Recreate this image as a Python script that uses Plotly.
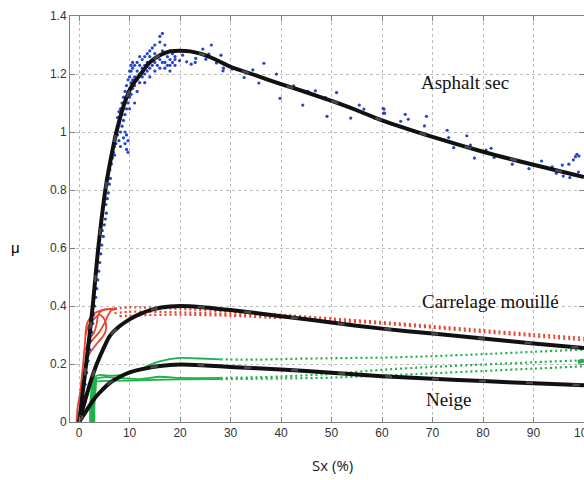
import plotly.graph_objects as go

# ---------------- data ----------------
# Model curves (black)
asph_x = [0, 0.7, 1.4, 2.0, 2.7, 3.8, 5.2, 6.2, 7.4, 9.0, 10.5, 12.2, 14, 16, 18, 20, 22, 24, 27, 30, 35, 40, 45, 50, 55, 60, 70, 80, 90, 100]
asph_y = [0, 0.1, 0.2, 0.29, 0.4, 0.6, 0.8, 0.9, 1.0, 1.1, 1.16, 1.2, 1.24, 1.265, 1.278, 1.28, 1.278, 1.27, 1.25, 1.225, 1.195, 1.165, 1.137, 1.107, 1.075, 1.04, 0.983, 0.932, 0.887, 0.845]

carr_x = [0, 1.2, 2.3, 3.5, 5, 6.1, 8, 10, 12, 15, 18, 20, 25, 30, 40, 50, 60, 70, 80, 90, 100]
carr_y = [0, 0.075, 0.14, 0.2, 0.26, 0.297, 0.33, 0.354, 0.372, 0.39, 0.398, 0.4, 0.395, 0.386, 0.365, 0.343, 0.322, 0.305, 0.288, 0.271, 0.255]

neige_x = [0, 1, 2.8, 4, 6.1, 8, 10, 13, 16, 20, 25, 30, 40, 50, 60, 70, 80, 90, 100]
neige_y = [0, 0.027, 0.075, 0.1, 0.135, 0.155, 0.171, 0.184, 0.193, 0.198, 0.195, 0.19, 0.181, 0.17, 0.158, 0.149, 0.141, 0.134, 0.127]

# Measured points, dry asphalt (blue)
blue_x = [0.3, 0.6, 0.9, 1.2, 1.5, 1.8, 2.1, 2.3, 2.5, 2.7, 2.9, 3.1, 3.3, 3.5, 3.7, 3.9, 4.1, 4.3, 4.5, 4.8, 4.6, 5.0, 5.2, 5.4, 5.3, 5.6, 5.8, 6.0, 6.2, 6.1, 6.4, 6.6, 6.8,
          7.0, 7.0, 7.0, 7.3, 7.3, 7.6, 7.6, 7.6, 7.9, 7.9, 7.9, 8.2, 8.2, 8.2, 8.2, 8.5, 8.5, 8.5, 8.8, 8.8, 8.8, 8.8,
          9.1, 9.1, 9.1, 9.1, 9.1, 9.4, 9.4, 9.4, 9.4, 9.4, 9.7, 9.7, 9.7, 9.7, 9.7, 10.0, 10.0, 10.0, 10.0, 10.0,
          10.3, 10.3, 10.3, 10.3, 10.6, 10.6, 10.6, 10.6, 11.0, 11.0, 11.0, 11.0, 11.5, 11.5, 11.5, 11.5,
          12.0, 12.0, 12.0, 12.0, 12.5, 12.5, 12.5, 13.0, 13.0, 13.0, 13.0, 13.5, 13.5, 13.5, 14.0, 14.0, 14.0, 14.0,
          14.5, 14.5, 14.5, 15.0, 15.0, 15.0, 15.0, 15.5, 15.5, 16.0, 16.0, 16.0, 16.0, 16.5, 16.5, 16.5,
          17.0, 17.0, 17.0, 17.0, 17.5, 17.5, 18.0, 18.0, 18.0, 18.0, 18.5, 18.5, 19.0, 19.0, 19.0,
          19.9, 20.5, 21.3, 22.2, 23.0, 23.1, 24.5, 25.1, 25.7, 26.2, 27.2, 28.1, 28.5, 28.6, 30.3, 32.7, 34.4, 35.6, 36.6,
          39.1, 39.8, 42.5, 44.3, 45.3, 46.8, 48.8, 49.1, 51.0, 53.8, 55.5, 56.4, 58.6, 60.4, 60.5,
          60.2, 60.3, 63.7, 64.6, 65.2, 68.4, 68.8, 72.9, 73.2, 74.2, 76.8, 77.5, 78.3, 80.6, 81.6, 82.2, 85.8, 89.1,
          91.6, 93.7, 94.5, 95.7, 95.9, 97.0, 97.2, 97.9, 98.3, 98.6, 99.0, 98.9]
blue_y = [0.02, 0.05, 0.09, 0.13, 0.17, 0.21, 0.25, 0.28, 0.31, 0.34, 0.37, 0.40, 0.43, 0.46, 0.49, 0.52, 0.55, 0.58, 0.61, 0.64, 0.66, 0.68, 0.70, 0.72, 0.75, 0.77, 0.79, 0.82, 0.84, 0.87, 0.89, 0.91, 0.93,
          0.95, 0.98, 0.92, 1.0, 0.96, 1.02, 0.99, 1.05, 1.03, 0.97, 1.07, 1.05, 1.08, 1.00, 0.95, 1.06, 1.10, 1.02, 1.08, 1.12, 1.04, 0.98,
          1.10, 1.14, 1.06, 1.00, 0.96, 1.12, 1.16, 1.08, 0.99, 0.94, 1.14, 1.18, 1.10, 0.93, 0.97, 1.15, 1.19, 1.12, 1.21, 1.08,
          1.17, 1.21, 1.13, 1.23, 1.18, 1.22, 1.15, 1.24, 1.19, 1.23, 1.16, 1.10, 1.21, 1.18, 1.24, 1.14,
          1.20, 1.23, 1.17, 1.26, 1.22, 1.25, 1.19, 1.23, 1.26, 1.20, 1.17, 1.24, 1.27, 1.21, 1.22, 1.26, 1.19, 1.28,
          1.25, 1.23, 1.29, 1.24, 1.27, 1.30, 1.21, 1.26, 1.23, 1.33, 1.31, 1.25, 1.22, 1.34, 1.28, 1.24,
          1.27, 1.24, 1.30, 1.22, 1.26, 1.23, 1.25, 1.28, 1.23, 1.21, 1.24, 1.27, 1.26, 1.23, 1.25,
          1.246, 1.265, 1.242, 1.234, 1.24, 1.254, 1.286, 1.251, 1.269, 1.30, 1.238, 1.265, 1.211, 1.22, 1.217, 1.188, 1.214, 1.169, 1.237,
          1.20, 1.116, 1.159, 1.093, 1.14, 1.142, 1.119, 1.054, 1.136, 1.048, 1.093, 1.079, 1.047, 1.079, 1.065,
          1.081, 1.065, 1.037, 1.061, 1.044, 1.021, 1.054, 1.006, 0.981, 0.946, 0.987, 0.955, 0.91, 0.938, 0.944, 0.912, 0.889, 0.874,
          0.90, 0.88, 0.858, 0.886, 0.848, 0.889, 0.843, 0.904, 0.915, 0.923, 0.917, 0.862]

# Measured traces, wet tile (red)
red_a_x = [-0.5, -0.3, 0.2, 0.5, 0.8, 1.0, 1.2, 1.3, 1.6, 2.2, 3.0, 4.5, 6.0, 7.5]
red_a_y = [0.0, 0.05, 0.1, 0.15, 0.2, 0.24, 0.28, 0.31, 0.34, 0.36, 0.375, 0.385, 0.39, 0.392]
red_b_x = [1.2, 2.0, 3.0, 4.0, 5.0, 5.8, 6.4, 7.5]
red_b_y = [0.25, 0.27, 0.29, 0.31, 0.34, 0.37, 0.385, 0.39]
red_c_x = [1.3, 1.8, 2.5, 3.2, 4.0, 4.8, 5.3, 5.2, 4.5, 3.5, 2.6, 2.0, 1.6, 1.5, 1.7, 2.2, 3.0, 3.5, 3.8, 4.5, 6.5]
red_c_y = [0.30, 0.33, 0.345, 0.36, 0.37, 0.36, 0.34, 0.31, 0.29, 0.27, 0.25, 0.235, 0.22, 0.24, 0.27, 0.29, 0.31, 0.34, 0.37, 0.385, 0.39]
red_d1_x = [7, 10, 20, 30, 40, 50, 60, 70, 80, 90, 100]
red_d1_y = [0.39, 0.395, 0.39, 0.38, 0.37, 0.357, 0.345, 0.331, 0.317, 0.303, 0.29]
red_d2_x = [7, 10, 20, 30, 40, 50, 60, 70, 80, 90, 100]
red_d2_y = [0.375, 0.38, 0.378, 0.372, 0.362, 0.35, 0.339, 0.325, 0.31, 0.296, 0.282]
red_d3_x = [8, 12, 20, 30, 40]
red_d3_y = [0.365, 0.368, 0.37, 0.366, 0.358]

# Measured traces, snow (green)
grn_v_x = [2.6, 2.6, 2.7, 2.9, 3.0]
grn_v_y = [0.0, 0.04, 0.08, 0.12, 0.155]
grn_1_x = [2.8, 4, 6, 8, 10, 12, 14, 16, 18, 20, 24, 28]
grn_1_y = [0.155, 0.162, 0.16, 0.162, 0.168, 0.181, 0.197, 0.209, 0.217, 0.221, 0.219, 0.216]
grn_2_x = [3, 5, 8, 12, 16, 20, 28]
grn_2_y = [0.148, 0.155, 0.152, 0.148, 0.156, 0.152, 0.152]
grn_3_x = [3, 6, 10, 15, 20, 28]
grn_3_y = [0.14, 0.142, 0.143, 0.145, 0.147, 0.148]
grn_d1_x = [28, 35, 40, 50, 60, 70, 80, 90, 100]
grn_d1_y = [0.216, 0.215, 0.217, 0.22, 0.222, 0.227, 0.234, 0.242, 0.25]
grn_d2_x = [28, 35, 40, 50, 60, 70, 80, 90, 100]
grn_d2_y = [0.152, 0.154, 0.157, 0.166, 0.18, 0.19, 0.198, 0.206, 0.213]
grn_d3_x = [28, 40, 50, 60, 70, 80, 90, 100]
grn_d3_y = [0.148, 0.15, 0.153, 0.16, 0.168, 0.176, 0.184, 0.192]
grn_end_x = [98.8, 100]
grn_end_y = [0.207, 0.212]

x_ticks = [0, 10, 20, 30, 40, 50, 60, 70, 80, 90, 100]
y_ticks = [0, 0.2, 0.4, 0.6, 0.8, 1.0, 1.2, 1.4]

labels = ["Asphalt sec", "Carrelage mouillé", "Neige"]
label_x = [76.4, 81.4, 73.1]
label_y = [1.172, 0.414, 0.076]

# ---------------- figure ----------------
RED = "#e8432e"
GREEN = "#1fb24a"
BLUE = "#2446c8"

fig = go.Figure()

def line(x, y, color, width, dash=None, shape="spline"):
    fig.add_trace(go.Scatter(x=x, y=y, mode="lines", line=dict(color=color, width=width, dash=dash, shape=shape,
                                                                  smoothing=0.8 if shape == "spline" else None),
                             hoverinfo="skip", showlegend=False))

# red measured
for xs, ys in [(red_a_x, red_a_y), (red_b_x, red_b_y), (red_c_x, red_c_y)]:
    line(xs, ys, RED, 1.8)
for xs, ys in [(red_d1_x, red_d1_y), (red_d2_x, red_d2_y), (red_d3_x, red_d3_y)]:
    line(xs, ys, RED, 2.2, dash="2px,3px")

# green measured
line(grn_v_x, grn_v_y, GREEN, 6)
for xs, ys in [(grn_1_x, grn_1_y), (grn_2_x, grn_2_y), (grn_3_x, grn_3_y)]:
    line(xs, ys, GREEN, 1.8)
for xs, ys in [(grn_d1_x, grn_d1_y), (grn_d2_x, grn_d2_y), (grn_d3_x, grn_d3_y)]:
    line(xs, ys, GREEN, 2.2, dash="2px,3px")
line(grn_end_x, grn_end_y, GREEN, 4, shape="linear")

# blue points
fig.add_trace(go.Scatter(x=blue_x, y=blue_y, mode="markers",
                         marker=dict(color=BLUE, size=3.2, line=dict(width=0)),
                         hoverinfo="skip", showlegend=False))

# black model curves with subtle grey dash overlay
for xs, ys in [(asph_x, asph_y), (carr_x, carr_y), (neige_x, neige_y)]:
    line(xs, ys, "#111111", 4)
    line(xs, ys, "#4a4a4a", 2.5, dash="7px,40px")

for t, xv, yv in zip(labels, label_x, label_y):
    fig.add_annotation(x=xv, y=yv, text=t, showarrow=False,
                       font=dict(family="Liberation Serif, Times New Roman, serif", size=19, color="#111111"))

# axis labels
fig.add_annotation(xref="paper", yref="paper", x=-0.118, y=0.43, text="μ", showarrow=False,
                   font=dict(family="Liberation Sans, Arial, sans-serif", size=15, color="#000000"))
fig.add_annotation(xref="paper", yref="paper", x=0.51, y=-0.105, yanchor="middle", text="Sx (%)", showarrow=False,
                   font=dict(family="Open Sans, Arial, sans-serif", size=15, color="#222222"))

axis_common = dict(ticks="inside", ticklen=5, tickcolor="#808080", showline=True, linecolor="#808080",
                   linewidth=1, mirror="ticks", showgrid=True, gridcolor="#bdbdbd", griddash="dot",
                   gridwidth=1, zeroline=False, automargin=False,
                   tickfont=dict(family="Liberation Sans, Arial, sans-serif", size=12, color="#333333"))

fig.update_layout(
    width=584, height=480,
    margin=dict(l=70, r=0, t=16, b=58, autoexpand=False),
    paper_bgcolor="white", plot_bgcolor="white",
    xaxis=dict(range=[-1.8, 100], tickvals=x_ticks, ticklabeloverflow="allow", **axis_common),
    yaxis=dict(range=[0, 1.4], tickvals=y_ticks, ticktext=["0", "0.2", "0.4", "0.6", "0.8", "1", "1.2", "1.4"],
               **axis_common),
    showlegend=False,
)

fig.write_html("out.html")
